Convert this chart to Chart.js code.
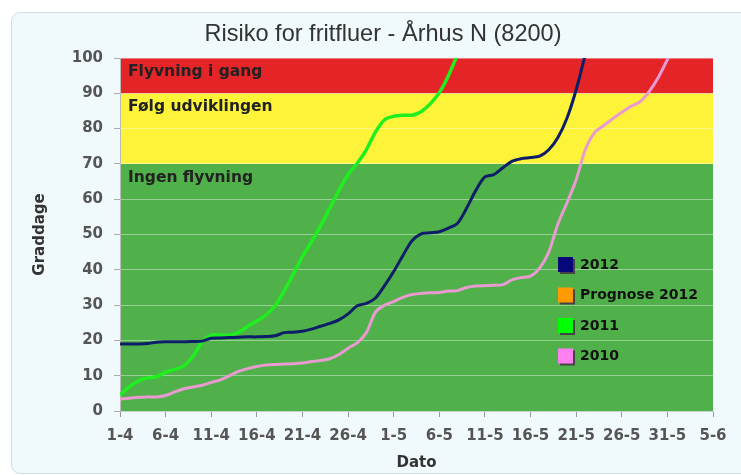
<!DOCTYPE html>
<html>
<head>
<meta charset="utf-8">
<script src="https://cdn.jsdelivr.net/npm/chart.js@4"></script>
<style>
  html, body { margin: 0; padding: 0; background: #fff; }
  #wrap { position: relative; width: 741px; height: 475px; overflow: hidden; }
  #frame { position: absolute; left: 11px; top: 12px; width: 760px; height: 460px; background: #f0f9fc; border: 1px solid #d5dde0; border-radius: 9px; }
  canvas { position: absolute; left: 0; top: 0; }
</style>
</head>
<body>
<div id="wrap">
  <div id="frame"></div>
  <canvas id="chart" width="741" height="475"></canvas>
</div>
<script>
const chartTitle = 'Risiko for fritfluer - Århus N (8200)';

// x tick labels, one per 5 days starting 1 April
const xTickLabels = ['1-4', '6-4', '11-4', '16-4', '21-4', '26-4', '1-5', '6-5', '11-5', '16-5', '21-5', '26-5', '31-5', '5-6'];

// daily degree-day sums from 1-4
const values2012 = [19.0, 19.0, 19.0, 19.1, 19.5, 19.6, 19.6, 19.6, 19.7, 19.8,
  20.6, 20.7, 20.8, 20.9, 21.0, 21.0, 21.1, 21.3, 22.2, 22.3,
  22.6, 23.2, 24.0, 24.8, 25.8, 27.5, 29.8, 30.5, 32.0, 35.5,
  39.5, 44.0, 48.2, 50.2, 50.5, 50.8, 51.8, 53.2, 57.5, 62.5,
  66.3, 67.0, 69.0, 70.8, 71.5, 71.8, 72.2, 74.0, 77.5, 83.0,
  91.0, 101.0];
const valuesPrognose2012 = [];
const values2011 = [4.5, 6.8, 8.5, 9.4, 9.7, 11.0, 11.8, 12.8, 15.5, 19.5,
  21.5, 21.5, 21.5, 22.3, 24.0, 25.5, 27.2, 29.8, 34.0, 38.8,
  43.8, 48.0, 52.5, 57.5, 62.5, 67.0, 70.2, 74.0, 79.0, 82.5,
  83.5, 83.8, 83.8, 84.8, 87.0, 90.2, 95.0, 101.0];
const values2010 = [3.4, 3.6, 3.9, 4.0, 4.0, 4.4, 5.4, 6.3, 6.8, 7.3,
  8.1, 8.8, 10.0, 11.2, 12.0, 12.6, 13.0, 13.2, 13.3, 13.4,
  13.6, 14.0, 14.3, 14.8, 16.0, 17.8, 19.3, 22.2, 28.0, 30.0,
  31.0, 32.2, 33.0, 33.3, 33.5, 33.6, 34.0, 34.1, 35.0, 35.4,
  35.5, 35.6, 35.8, 37.2, 37.8, 38.2, 40.5, 45.0, 53.0, 59.0,
  65.5, 74.0, 78.8, 80.8, 82.8, 84.6, 86.3, 87.6, 90.5, 94.5,
  99.5, 104.0];

// risk bands
const bandLimits = [0, 70, 90, 100];
const bandLabels = ['Ingen flyvning', 'Følg udviklingen', 'Flyvning i gang'];
const bandColors = ['#50b14a', '#fdf43a', '#e52428'];

const toPoints = (arr) => arr.map((v, i) => ({ x: i, y: v }));
const boldFont = 'DejaVu Sans';

const bandsPlugin = {
  id: 'bands',
  beforeDraw(chart) {
    const { ctx, chartArea, scales } = chart;
    ctx.save();
    for (let i = 0; i < bandColors.length; i++) {
      const top = scales.y.getPixelForValue(bandLimits[i + 1]);
      const bottom = scales.y.getPixelForValue(bandLimits[i]);
      ctx.fillStyle = bandColors[i];
      ctx.fillRect(chartArea.left, top, chartArea.right - chartArea.left, bottom - top);
      ctx.fillStyle = '#222';
      ctx.font = 'bold 15.5px ' + boldFont;
      ctx.textBaseline = 'middle';
      ctx.fillText(bandLabels[i], chartArea.left + 8, top + 14);
    }
    // narrow title, squeezed to the width it has in the original
    ctx.font = '24px "Liberation Sans", Arial, sans-serif';
    const w = ctx.measureText(chartTitle).width;
    ctx.translate(383, 34);
    ctx.scale(357 / w, 1);
    ctx.fillStyle = '#333';
    ctx.textAlign = 'center';
    ctx.textBaseline = 'middle';
    ctx.fillText(chartTitle, 0, 0);
    ctx.restore();
  },
};

const legendPlugin = {
  id: 'boxLegend',
  afterDraw(chart) {
    const { ctx } = chart;
    ctx.save();
    ctx.font = 'bold 14px ' + boldFont;
    ctx.textBaseline = 'middle';
    chart.data.datasets.forEach((ds, i) => {
      const y = 265 + i * 30.5;
      ctx.fillStyle = '#444';
      ctx.fillRect(560, y - 6, 15, 15);
      ctx.fillStyle = ds.legendColor;
      ctx.fillRect(558, y - 8, 15, 15);
      ctx.fillStyle = '#111';
      ctx.fillText(ds.label, 580, y);
    });
    ctx.restore();
  },
};

new Chart(document.getElementById('chart'), {
  type: 'line',
  data: {
    datasets: [
      { label: '2012', data: toPoints(values2012), borderColor: '#0d1d68', legendColor: '#06087a', borderWidth: 3 },
      { label: 'Prognose 2012', data: toPoints(valuesPrognose2012), borderColor: '#ff9a00', legendColor: '#ff9a00', borderWidth: 3 },
      { label: '2011', data: toPoints(values2011), borderColor: '#1fee1f', legendColor: '#00ff00', borderWidth: 3.5 },
      { label: '2010', data: toPoints(values2010), borderColor: '#e99ad0', legendColor: '#ff80f0', borderWidth: 3 },
    ],
  },
  options: {
    responsive: false,
    animation: false,
    elements: { point: { radius: 0 }, line: { tension: 0.3 } },
    layout: { padding: { left: 0, right: 28, top: 58, bottom: 0 } },
    plugins: {
      legend: { display: false },
      tooltip: { enabled: false },
      title: { display: false },
    },
    scales: {
      x: {
        type: 'linear',
        min: 0,
        max: 65,
        afterFit(scale) { scale.height = 64; },
        border: { color: '#c9d2d6' },
        grid: { drawOnChartArea: false, tickLength: 6, tickColor: '#999' },
        ticks: {
          stepSize: 5,
          autoSkip: false,
          maxRotation: 0,
          padding: 10,
          color: '#555',
          font: { family: boldFont, size: 15, weight: 'bold' },
          callback: (v) => xTickLabels[v / 5],
        },
        title: {
          display: true,
          text: 'Dato',
          color: '#333',
          font: { family: boldFont, size: 15, weight: 'bold' },
          padding: { top: 0, bottom: 3 },
        },
      },
      y: {
        min: 0,
        max: 100,
        afterFit(scale) { scale.width = 120; },
        border: { color: '#bbb' },
        grid: { color: 'rgba(255,255,255,0.4)', tickColor: '#aaa', tickLength: 6 },
        ticks: {
          stepSize: 10,
          padding: 11,
          color: '#555',
          font: { family: boldFont, size: 15, weight: 'bold' },
        },
        title: {
          display: true,
          text: 'Graddage',
          color: '#333',
          font: { family: boldFont, size: 15, weight: 'bold' },
          padding: { top: 31, bottom: 0 },
        },
      },
    },
  },
  plugins: [bandsPlugin, legendPlugin],
});
</script>
</body>
</html>
